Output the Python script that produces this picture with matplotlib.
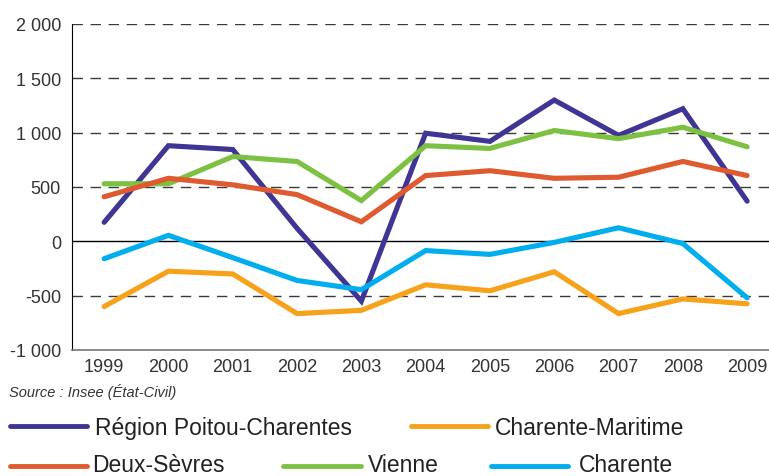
import matplotlib.pyplot as plt
from matplotlib.lines import Line2D
from matplotlib.ticker import FuncFormatter

years = [1999, 2000, 2001, 2002, 2003, 2004, 2005, 2006, 2007, 2008, 2009]

region = [175, 880, 845, 120, -550, 995, 920, 1300, 975, 1220, 370]
vienne = [530, 530, 780, 735, 375, 880, 855, 1020, 945, 1050, 870]
deux_sevres = [410, 580, 520, 430, 180, 605, 650, 580, 590, 735, 605]
charente = [-160, 55, -150, -360, -445, -85, -120, -10, 125, -20, -520]
charente_maritime = [-600, -275, -300, -665, -635, -400, -455, -280, -665, -530, -575]

series = [
    ("Région Poitou-Charentes", region, "#3f3594"),
    ("Vienne", vienne, "#7dc142"),
    ("Deux-Sèvres", deux_sevres, "#e05a30"),
    ("Charente", charente, "#00aeef"),
    ("Charente-Maritime", charente_maritime, "#f7a21b"),
]

plt.rcParams['font.family'] = ['Liberation Sans', 'DejaVu Sans']

W, H = 769, 477
fig = plt.figure(figsize=(W / 100, H / 100), dpi=100)
ax = fig.add_axes([72 / W, 1 - 351 / H, (W - 72) / W, (351 - 25) / H])

for name, vals, col in series:
    ax.plot(years, vals, color=col, lw=3.7, solid_capstyle='round', solid_joinstyle='miter', zorder=3)

ax.set_xlim(1998.5, 2009.34)
ax.set_ylim(-1000, 2000)
ax.set_yticks(range(-1000, 2001, 500))
ax.set_xticks(years)
ax.yaxis.set_major_formatter(FuncFormatter(lambda v, p: f"{int(v):,}".replace(",", " ")))

for v in range(-500, 2001, 500):
    if v == 0:
        ax.axhline(0, color='black', lw=1, zorder=2)
    else:
        ax.axhline(v, color='#3a3a3a', lw=1, ls=(0, (7.5, 5.5)), zorder=1)

for s in ['top', 'right']:
    ax.spines[s].set_visible(False)
ax.spines['left'].set_color('black')
ax.spines['bottom'].set_color('#777777')
ax.spines['bottom'].set_linewidth(1.2)
ax.tick_params(axis='both', length=0, labelsize=13, colors='#333333')
ax.tick_params(axis='y', pad=8)
ax.tick_params(axis='x', pad=6)

fig.text(9 / W, 1 - 392 / H, "Source : Insee (État-Civil)", fontsize=10.5, style='italic',
         color='#333333', va='center', ha='left')

# legend drawn by hand to keep the irregular layout
# (line start, line end, text x, line y, text baseline)
leg_items = [
    (series[0], 10, 87, 95, 427, 435),
    (series[4], 411, 488, 495, 427, 435),
    (series[2], 10, 87, 92, 467, 472),
    (series[1], 283, 361, 368, 467, 472),
    (series[3], 491, 568, 579, 467, 472),
]
for (name, vals, col), x0, x1, tx, ly, ty in leg_items:
    fig.add_artist(Line2D([x0 / W, x1 / W], [1 - ly / H, 1 - ly / H], color=col, lw=3.5,
                          solid_capstyle='round', transform=fig.transFigure))
    fig.text(tx / W, 1 - ty / H, name, fontsize=16.5, color='#222222', va='baseline', ha='left')

fig.savefig("out.png", dpi=100)
